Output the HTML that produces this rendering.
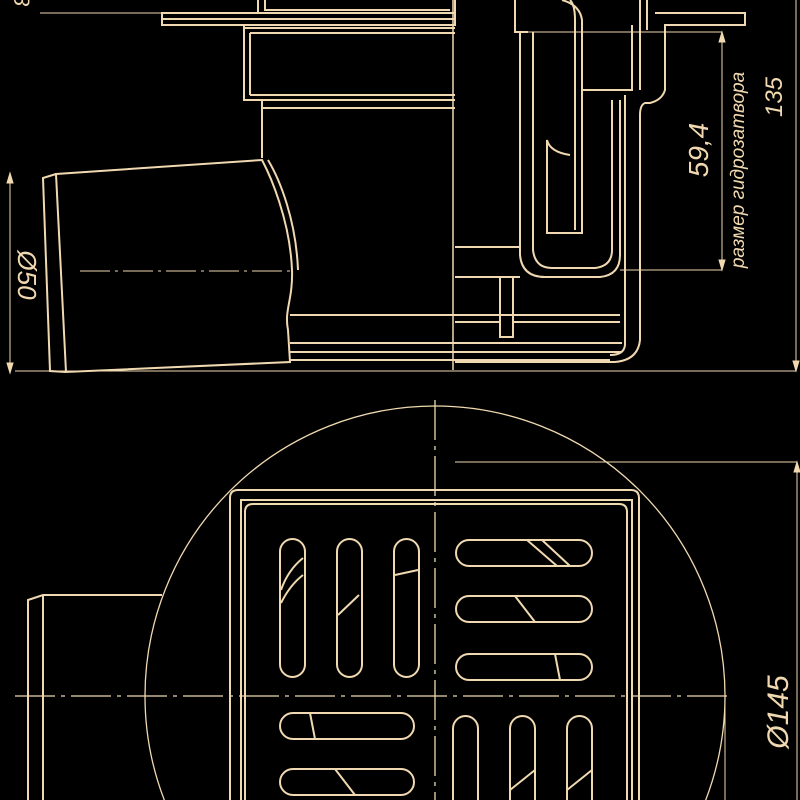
<!DOCTYPE html>
<html><head><meta charset="utf-8"><style>
html,body{margin:0;padding:0;background:#000;width:800px;height:800px;overflow:hidden}
svg{display:block}
text{font-family:"Liberation Sans",sans-serif;font-style:italic;fill:#f0d9b0}
</style></head><body>
<svg width="800" height="800" viewBox="0 0 800 800" xmlns="http://www.w3.org/2000/svg">
<rect width="800" height="800" fill="#000"/>
<g fill="none" stroke="#f0d9b0" stroke-width="2">
<path d="M258 0 V13 M455 0 V13 M265 0 V10 H450"/>
<rect x="162" y="13" width="293" height="12"/>
<path d="M162 19 H455"/>
<path d="M244 25 V100 H455 M244 28 H455 M250 33 H455 M250 95 H455 M250 33 V95"/>
<path d="M262 100 V158 M262 108 H455"/>
<path d="M56 174 L262 160 C270 175 290 220 292 270 C293 300 284 310 288 330 L290 362 L66 372 Z"/>
<path d="M56 174 L43 178 L50 371 L66 372"/>
<path d="M268 160 C280 180 296 220 298 270"/>
<path d="M290 315 H620 M290 343 H622 M290 352 H622 M290 360 H610"/>
<path d="M453 0 V370" stroke-width="1.5"/>
<path d="M655 13 H745 V25 H665 V90 Q662 100 650 103 H645 Q640 105 640 115 V340 Q638 360 615 362 H455"/>
<path d="M632 25 V90 H582 M625 95 V345 Q624 355 610 355"/>
<path d="M647 0 V30 M640 0 V90"/>
<path d="M520 32 V255 Q522 277 545 277 H600 Q620 275 620 255 V100"/>
<path d="M533 32 V250 Q535 268 552 268 H595 Q612 266 612 250 V100"/>
<path d="M562 0 Q580 5 582 20 V233 H547 V140 Q550 152 570 155 M570 0 Q575 5 575 20 V230"/>
<path d="M515 0 V32 H528"/>
<path d="M455 247 H520 M455 277 H520"/>
<rect x="500" y="277" width="13" height="60"/>
<path d="M455 322 H500 M513 322 H620"/>
<g stroke-width="1">
<path d="M40 13 H162 M10 173 V373 M15 371 H796 M796 0 V371 M522 32 H722 M620 270 H722 M722 32 V270" />
<path d="M80 271 H292" stroke-dasharray="30 5 3 5"/>
</g>
<path d="M722 32 l-3 10 h6 z M722 270 l-3 -10 h6 z M796 371 l-3 -10 h6 z M10 173 l-3 10 h6 z M10 373 l-3 -10 h6 z" fill="#f0d9b0" stroke-width="1"/>
<circle cx="435" cy="696" r="290" stroke-width="1.3"/>
<path d="M435 400 V800 M15 696 H732" stroke-width="1.3" stroke-dasharray="40 6 4 6"/>
<path d="M455 462 H797 V800" stroke-width="1"/>
<path d="M797 462 l-3 10 h6 z" fill="#f0d9b0" stroke-width="1"/>
<path d="M725 700 V800" stroke-width="1"/>
<path d="M230 800 V498 Q230 490 238 490 H631 Q639 490 639 498 V800"/>
<path d="M241 800 V500 H632 V800"/>
<path d="M245 800 V512 Q245 504 253 504 H619 Q627 504 627 512 V800"/>
<path d="M162 595 H43 L28 600 V800 M43 595 V800"/>
<rect x="280" y="539" width="25" height="138" rx="12.5"/>
<rect x="337" y="539" width="25" height="138" rx="12.5"/>
<rect x="394" y="539" width="25" height="138" rx="12.5"/>
<rect x="456" y="540" width="136" height="26" rx="13"/>
<rect x="456" y="596" width="136" height="26" rx="13"/>
<rect x="456" y="654" width="136" height="26" rx="13"/>
<rect x="280" y="713" width="134" height="26" rx="13"/>
<rect x="280" y="769" width="134" height="26" rx="13"/>
<rect x="453" y="716" width="25" height="120" rx="12.5"/>
<rect x="510" y="716" width="25" height="120" rx="12.5"/>
<rect x="567" y="716" width="25" height="120" rx="12.5"/>
<path d="M281 590 Q288 570 303 558 M281 603 Q290 585 303 575 M338 615 L359 595 M395 575 L418 570 M527 540 L557 566 M542 540 L570 566 M515 596 L535 622 M555 654 L560 680 M310 713 L315 739 M335 769 L355 795 M510 790 L535 770 M567 790 L592 770"/>
</g>
<text transform="translate(708,150) rotate(-90)" font-size="28" text-anchor="middle">59,4</text>
<text transform="translate(744,170) rotate(-90)" font-size="19" text-anchor="middle">размер гидрозатвора</text>
<text transform="translate(782,97) rotate(-90)" font-size="24" text-anchor="middle">135</text>
<text transform="translate(18,275) rotate(90)" font-size="26" text-anchor="middle">Ø50</text>
<text transform="translate(14,0) rotate(90)" font-size="22" text-anchor="middle">8</text>
<text transform="translate(788,712) rotate(-90)" font-size="30" text-anchor="middle">Ø145</text>
</svg>
</body></html>
